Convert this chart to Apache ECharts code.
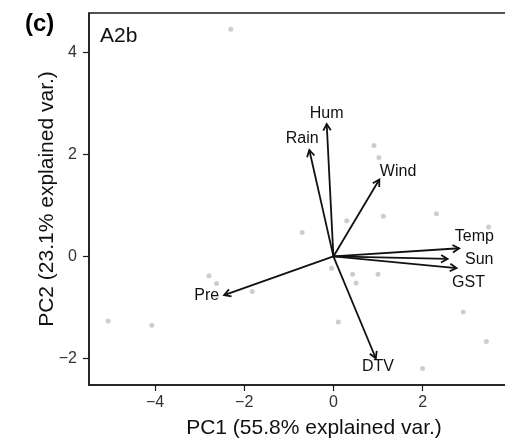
<!DOCTYPE html>
<html>
<head>
<meta charset="utf-8">
<script src="https://cdn.jsdelivr.net/npm/echarts@6/dist/echarts.min.js"></script>
<style>
html,body{margin:0;padding:0;overflow:hidden;background:#fff;}
#chart{width:545px;height:439px;}
</style>
</head>
<body>
<div id="chart"></div>
<script>
// PCA scores (PC1, PC2)
const scoreX = [-2.30, 0.91, 1.02, 1.12, 2.31, 0.30, -0.70, -0.04, 3.48, 0.43, 0.51, 1.00, 2.91, 0.11, 3.43, 2.00, -2.79, -2.62, -1.82, -4.07, -5.05];
const scoreY = [4.46, 2.18, 1.94, 0.79, 0.84, 0.70, 0.47, -0.23, 0.58, -0.35, -0.52, -0.35, -1.09, -1.29, -1.67, -2.20, -0.38, -0.53, -0.69, -1.35, -1.27];
// Variable loadings (arrow tips)
const varNames = ['Hum', 'Rain', 'Wind', 'Temp', 'Sun', 'GST', 'Pre', 'DTV'];
const loadX = [-0.15, -0.54, 1.03, 2.82, 2.56, 2.76, -2.45, 0.95];
const loadY = [2.60, 2.09, 1.51, 0.16, -0.05, -0.23, -0.76, -2.00];
// Variable label anchor points
const labelX = [-0.15, -0.70, 1.45, 3.16, 3.27, 3.03, -2.84, 1.00];
const labelY = [2.80, 2.32, 1.67, 0.38, -0.06, -0.51, -0.77, -2.17];
// Axis ticks
const xTicks = [-4, -2, 0, 2, 4];
const yTicks = [-2, 0, 2, 4];

const scores = scoreX.map((x, i) => [x, scoreY[i]]);
const loadings = loadX.map((x, i) => [x, loadY[i]]);
const labels = labelX.map((x, i) => [x, labelY[i], varNames[i]]);

const fmt = v => String(v).replace('-', '\u2212');
const FONT = '"Liberation Sans", Arial, sans-serif';
const axisCommon = {
  type: 'value',
  splitLine: { show: false },
  axisLine: { show: true, onZero: false, lineStyle: { color: '#1a1a1a', width: 1.5 } },
  axisTick: { show: true, inside: false, length: 6, lineStyle: { color: '#1a1a1a', width: 1.2 } },
  nameLocation: 'middle',
  nameMoveOverlap: false,
  nameTextStyle: { fontFamily: FONT, fontSize: 21, color: '#111' }
};

const chart = echarts.init(document.getElementById('chart'), null, { renderer: 'canvas' });
chart.setOption({
  animation: false,
  backgroundColor: '#fff',
  grid: { left: 89, right: 6, top: 13, bottom: 54, containLabel: false, outerBoundsMode: 'none', show: true, borderColor: '#1a1a1a', borderWidth: 1.5, backgroundColor: 'transparent' },
  graphic: [
    { type: 'text', left: 25, top: 12, style: { text: '(c)', font: 'bold 24px ' + FONT, fill: '#000' } },
    { type: 'text', left: 100, top: 26, style: { text: 'A2b', font: '21px ' + FONT, fill: '#111' } }
  ],
  xAxis: Object.assign({}, axisCommon, {
    min: -5.48, max: 4.61,
    name: 'PC1 (55.8% explained var.)',
    nameGap: 33,
    axisTick: Object.assign({}, axisCommon.axisTick, { customValues: xTicks }),
    axisLabel: { customValues: xTicks, formatter: fmt, margin: 10, fontFamily: FONT, fontSize: 16, color: '#333' }
  }),
  yAxis: Object.assign({}, axisCommon, {
    min: -2.525, max: 4.78,
    name: 'PC2 (23.1% explained var.)',
    nameGap: 31,
    axisTick: Object.assign({}, axisCommon.axisTick, { customValues: yTicks }),
    axisLabel: { customValues: yTicks, formatter: fmt, margin: 12, fontFamily: FONT, fontSize: 16, color: '#333' }
  }),
  series: [
    {
      type: 'scatter',
      data: scores,
      symbolSize: 5,
      itemStyle: { color: '#c0c0c0' },
      silent: true
    },
    {
      type: 'custom',
      data: loadings,
      silent: true,
      renderItem: function (params, api) {
        const p0 = api.coord([0, 0]);
        const p1 = api.coord([api.value(0), api.value(1)]);
        const ang = Math.atan2(p1[1] - p0[1], p1[0] - p0[0]);
        const L = 7.5, a = Math.PI / 6;
        const h1 = [p1[0] - L * Math.cos(ang - a), p1[1] - L * Math.sin(ang - a)];
        const h2 = [p1[0] - L * Math.cos(ang + a), p1[1] - L * Math.sin(ang + a)];
        const st = { stroke: '#111', lineWidth: 1.8, fill: null, lineJoin: 'miter' };
        return {
          type: 'group',
          children: [
            { type: 'line', shape: { x1: p0[0], y1: p0[1], x2: p1[0], y2: p1[1] }, style: st },
            { type: 'polyline', shape: { points: [h1, p1, h2] }, style: st }
          ]
        };
      }
    },
    {
      type: 'custom',
      data: labels,
      silent: true,
      renderItem: function (params, api) {
        const p = api.coord([api.value(0), api.value(1)]);
        return {
          type: 'text',
          x: p[0], y: p[1],
          style: { text: labels[params.dataIndex][2], font: '16px ' + FONT, fill: '#111', align: 'center', verticalAlign: 'middle' }
        };
      }
    }
  ]
});
</script>
</body>
</html>
